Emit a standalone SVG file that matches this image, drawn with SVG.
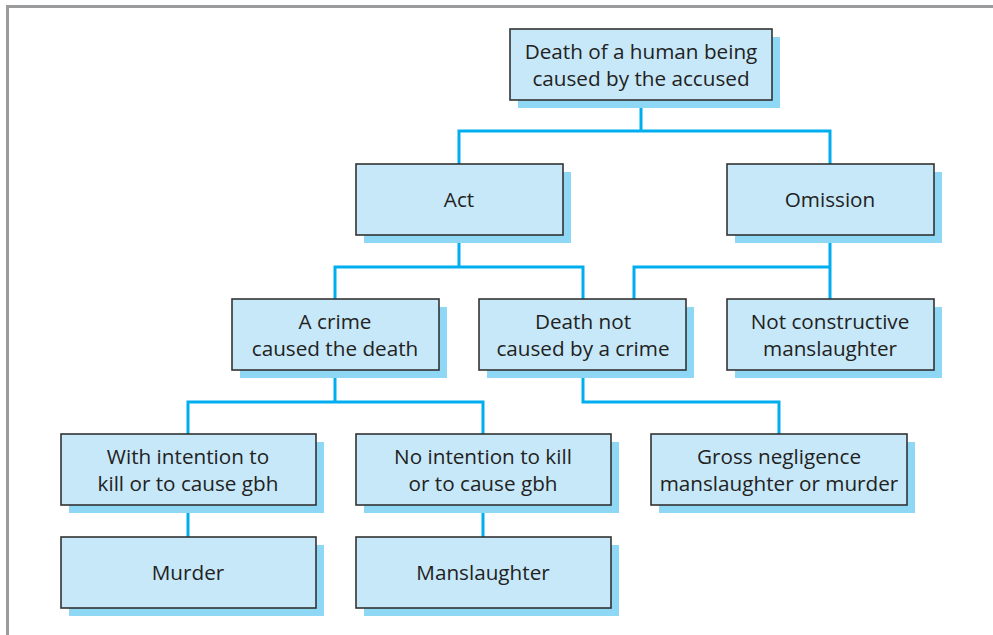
<svg xmlns="http://www.w3.org/2000/svg" width="993" height="635" viewBox="0 0 993 635">
<style>
.shadow{fill:#8fd8f5;}
.box{fill:#c7e8f8;stroke:#333;stroke-width:1.6;}
.lbl{font-family:"Open Sans","Liberation Sans",sans-serif;font-size:20.7px;fill:#222;text-anchor:middle;}
.conn{fill:none;stroke:#00adef;stroke-width:3;}
.frame{fill:none;stroke:#9a9b9d;stroke-width:3;}
</style>
<rect width="993" height="635" fill="#fff"/>
<path class="frame" d="M7.5 635 V6.5 H993"/>
<g id="connectors">
<path class="conn" d="M641 100 V131 M459 164 V131 H830 V164"/>
<path class="conn" d="M459 235 V267 M335 299 V267 H583 V299"/>
<path class="conn" d="M830 235 V299 M830 267 H634 V299"/>
<path class="conn" d="M335 370 V402 M188 434 V402 H483 V434"/>
<path class="conn" d="M583 370 V402 H779 V434"/>
<path class="conn" d="M188 505 V537"/>
<path class="conn" d="M483 505 V537"/>
</g>
<g id="n-death">
<rect class="shadow" x="518" y="37" width="262" height="71"/>
<rect class="box" x="510" y="29" width="262" height="71"/>
<text class="lbl" x="641" y="59">Death of a human being</text>
<text class="lbl" x="641" y="86">caused by the accused</text>
</g>
<g id="n-act">
<rect class="shadow" x="364" y="172" width="207" height="71"/>
<rect class="box" x="356" y="164" width="207" height="71"/>
<text class="lbl" x="459" y="207">Act</text>
</g>
<g id="n-omission">
<rect class="shadow" x="735" y="172" width="207" height="71"/>
<rect class="box" x="727" y="164" width="207" height="71"/>
<text class="lbl" x="830" y="207">Omission</text>
</g>
<g id="n-crime">
<rect class="shadow" x="240" y="307" width="207" height="71"/>
<rect class="box" x="232" y="299" width="207" height="71"/>
<text class="lbl" x="335" y="329">A crime</text>
<text class="lbl" x="335" y="356">caused the death</text>
</g>
<g id="n-notcrime">
<rect class="shadow" x="487" y="307" width="207" height="71"/>
<rect class="box" x="479" y="299" width="207" height="71"/>
<text class="lbl" x="583" y="329">Death not</text>
<text class="lbl" x="583" y="356">caused by a crime</text>
</g>
<g id="n-notconstructive">
<rect class="shadow" x="735" y="307" width="207" height="71"/>
<rect class="box" x="727" y="299" width="207" height="71"/>
<text class="lbl" x="830" y="329">Not constructive</text>
<text class="lbl" x="830" y="356">manslaughter</text>
</g>
<g id="n-intention">
<rect class="shadow" x="69" y="442" width="255" height="71"/>
<rect class="box" x="61" y="434" width="255" height="71"/>
<text class="lbl" x="188" y="464">With intention to</text>
<text class="lbl" x="188" y="491">kill or to cause gbh</text>
</g>
<g id="n-nointention">
<rect class="shadow" x="364" y="442" width="255" height="71"/>
<rect class="box" x="356" y="434" width="255" height="71"/>
<text class="lbl" x="483" y="464">No intention to kill</text>
<text class="lbl" x="483" y="491">or to cause gbh</text>
</g>
<g id="n-gross">
<rect class="shadow" x="659" y="442" width="256" height="71"/>
<rect class="box" x="651" y="434" width="256" height="71"/>
<text class="lbl" x="779" y="464">Gross negligence</text>
<text class="lbl" x="779" y="491">manslaughter or murder</text>
</g>
<g id="n-murder">
<rect class="shadow" x="69" y="545" width="255" height="71"/>
<rect class="box" x="61" y="537" width="255" height="71"/>
<text class="lbl" x="188" y="580">Murder</text>
</g>
<g id="n-manslaughter">
<rect class="shadow" x="364" y="545" width="255" height="71"/>
<rect class="box" x="356" y="537" width="255" height="71"/>
<text class="lbl" x="483" y="580">Manslaughter</text>
</g>
</svg>
